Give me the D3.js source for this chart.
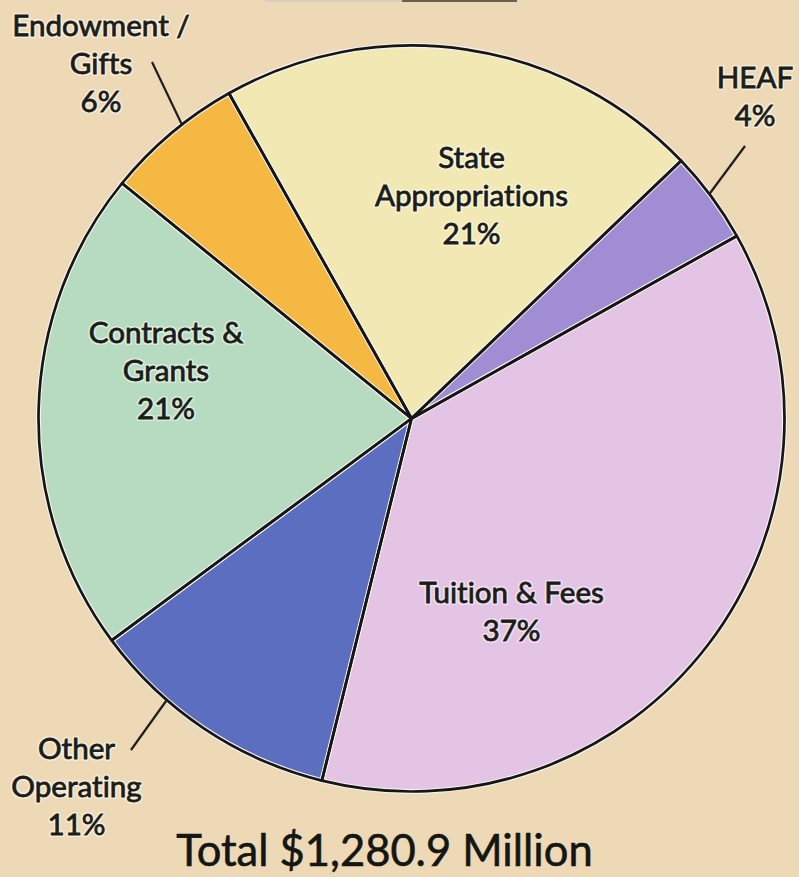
<!DOCTYPE html>
<html>
<head>
<meta charset="utf-8">
<script src="https://cdn.jsdelivr.net/npm/d3@7"></script>
<style>
  html, body { margin: 0; padding: 0; background: #eed9b7; }
  svg { display: block; }
  text { font-variant-ligatures: none; }
</style>
</head>
<body>
<div id="chart"></div>
<script>
const WIDTH = 799;
const HEIGHT = 877;
const CENTER = { x: 411.5, y: 418.5 };
const RADIUS = 373;
const FONT = "Lato, 'Open Sans', sans-serif";

// data, clockwise from the slice at the top
const categories = ["State Appropriations", "HEAF", "Tuition & Fees", "Other Operating", "Contracts & Grants", "Endowment / Gifts"];
const percents = [21, 4, 37, 11, 21, 6];
const labelLines = [
  ["State", "Appropriations", "21%"],
  ["HEAF", "4%"],
  ["Tuition & Fees", "37%"],
  ["Other", "Operating", "11%"],
  ["Contracts &", "Grants", "21%"],
  ["Endowment /", "Gifts", "6%"]
];
const colors = ["#f1e8b3", "#a08dd3", "#e4c4e5", "#5c6ebf", "#b7dbc0", "#f5b943"];
const totalLabel = "Total $1,280.9 Million";

// label placement: centre x, first baseline, and optional leader line
const labelLayout = [
  { x: 471.5, y: 168 },
  { x: 755, y: 88, leader: { x: 745, y: 146, angle: 53 } },
  { x: 511.5, y: 603 },
  { x: 76.5, y: 759, leader: { x: 131, y: 750, angle: 221 } },
  { x: 166, y: 343 },
  { x: 101, y: 36, leader: { x: 152, y: 62, angle: -38 } }
];
const LINE_HEIGHT = 38;
const START_ANGLE = -29.3 * Math.PI / 180;

const svg = d3.select("#chart")
  .append("svg")
  .attr("width", WIDTH)
  .attr("height", HEIGHT);

svg.append("rect")
  .attr("width", WIDTH)
  .attr("height", HEIGHT)
  .attr("fill", "#eed9b7");

// bit of the cut-off title underline at the very top
svg.append("line")
  .attr("x1", 265).attr("x2", 402)
  .attr("y1", 1).attr("y2", 1)
  .attr("stroke", "#d8cfc4")
  .attr("stroke-width", 2);
svg.append("line")
  .attr("x1", 402).attr("x2", 517)
  .attr("y1", 1).attr("y2", 1)
  .attr("stroke", "#6a6058")
  .attr("stroke-width", 2);

// fit font sizes to the widths
function fitSize(text, targetWidth) {
  const probe = svg.append("text")
    .attr("font-family", FONT)
    .attr("font-size", 100)
    .text(text);
  const w = probe.node().getComputedTextLength();
  probe.remove();
  return 100 * targetWidth / w;
}
const labelSize = fitSize("Appropriations", 193);
const totalSize = fitSize(totalLabel, 425);

const data = categories.map((c, i) => ({ name: c, value: percents[i], lines: labelLines[i], color: colors[i] }));

const pie = d3.pie()
  .sort(null)
  .value(d => d.value)
  .startAngle(START_ANGLE)
  .endAngle(START_ANGLE + 2 * Math.PI);

const arc = d3.arc().innerRadius(0).outerRadius(RADIUS);

const g = svg.append("g")
  .attr("transform", `translate(${CENTER.x},${CENTER.y})`);

const arcs = pie(data);

// light halo under the dark edges, like the scan
g.selectAll("path.halo")
  .data(arcs)
  .join("path")
  .attr("class", "halo")
  .attr("d", arc)
  .attr("fill", d => d.data.color)
  .attr("stroke", "#f7f4ee")
  .attr("stroke-width", 5)
  .attr("stroke-linejoin", "round");

g.selectAll("path.slice")
  .data(arcs)
  .join("path")
  .attr("class", "slice")
  .attr("d", arc)
  .attr("fill", "none")
  .attr("stroke", "#161616")
  .attr("stroke-width", 2.7)
  .attr("stroke-linejoin", "round");

// leader lines
arcs.forEach((d, i) => {
  const lay = labelLayout[i];
  if (!lay.leader) return;
  const a = lay.leader.angle * Math.PI / 180;
  svg.append("line")
    .attr("x1", lay.leader.x)
    .attr("y1", lay.leader.y)
    .attr("x2", CENTER.x + RADIUS * Math.sin(a))
    .attr("y2", CENTER.y - RADIUS * Math.cos(a))
    .attr("stroke", "#1e1e1e")
    .attr("stroke-width", 2.2);
});

// labels: a soft light glow, then the dark text slightly thickened
function drawLabel(parent, lines, x, y, halo) {
  const t = parent.append("text")
    .attr("font-family", FONT)
    .attr("font-size", labelSize)
    .attr("text-anchor", "middle");
  if (halo) {
    t.attr("fill", "none")
      .attr("stroke", "rgba(255,255,250,0.5)")
      .attr("stroke-width", 4)
      .attr("stroke-linejoin", "round");
  } else {
    t.attr("fill", "#1b1d1a")
      .attr("stroke", "#1b1d1a")
      .attr("stroke-width", 0.8);
  }
  lines.forEach((line, k) => {
    t.append("tspan")
      .attr("x", x)
      .attr("y", y + k * LINE_HEIGHT)
      .text(line);
  });
}

arcs.forEach((d, i) => drawLabel(svg, d.data.lines, labelLayout[i].x, labelLayout[i].y, true));
arcs.forEach((d, i) => drawLabel(svg, d.data.lines, labelLayout[i].x, labelLayout[i].y, false));

svg.append("text")
  .attr("x", 384.5)
  .attr("y", 866)
  .attr("text-anchor", "middle")
  .attr("font-family", FONT)
  .attr("font-size", totalSize * 0.98)
  .attr("fill", "#141614")
  .attr("stroke", "#141614")
  .attr("stroke-width", 0.6)
  .text(totalLabel);
</script>
</body>
</html>
